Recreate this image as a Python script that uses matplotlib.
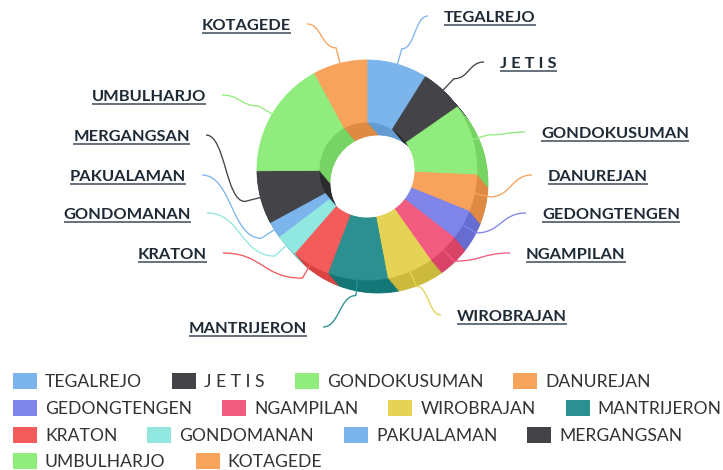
import matplotlib
matplotlib.use('Agg')
import matplotlib.pyplot as plt
import matplotlib.colors as mcolors
from matplotlib.path import Path
from matplotlib.patches import PathPatch, Rectangle
import numpy as np

plt.rcParams['font.family'] = ['Lato', 'DejaVu Sans']

# ---------------- data ----------------
categories = ['TEGALREJO', 'J E T I S', 'GONDOKUSUMAN', 'DANUREJAN', 'GEDONGTENGEN',
              'NGAMPILAN', 'WIROBRAJAN', 'MANTRIJERON', 'KRATON', 'GONDOMANAN',
              'PAKUALAMAN', 'MERGANGSAN', 'UMBULHARJO', 'KOTAGEDE']
values = [8.9, 6.4, 10.4, 5.4, 4.4, 4.7, 6.8, 8.75, 5.6, 3.3, 2.4, 7.8, 17.2, 7.9]
colors = ['#7cb5ec', '#434348', '#90ed7d', '#f7a35c', '#8085e9', '#f15c80', '#e4d354',
          '#2b908f', '#f45b5b', '#91e8e1', '#7cb5ec', '#434348', '#90ed7d', '#f7a35c']

# ---------------- layout (pixels, y downward) ----------------
W, H = 723, 470
CX, CY = 367, 170
R, RIN = 110, 48
DX, DY = 11, 13
NLAYER = 16

# label anchor: (side, x, y_center); right side -> x is text left, left side -> x is text right
label_pos = {
    'TEGALREJO': ('r', 444, 16), 'J E T I S': ('r', 500, 62), 'GONDOKUSUMAN': ('r', 541, 132),
    'DANUREJAN': ('r', 548, 175), 'GEDONGTENGEN': ('r', 542, 213), 'NGAMPILAN': ('r', 526, 253),
    'WIROBRAJAN': ('r', 457, 315), 'MANTRIJERON': ('l', 307, 327), 'KRATON': ('l', 207, 253),
    'GONDOMANAN': ('l', 191, 213), 'PAKUALAMAN': ('l', 186, 175), 'MERGANGSAN': ('l', 190, 135),
    'UMBULHARJO': ('l', 206, 95), 'KOTAGEDE': ('l', 291, 24),
}
legend_rows = [[0, 1, 2, 3], [4, 5, 6, 7], [8, 9, 10, 11], [12, 13]]
legend_y = [381, 408, 435, 461]

fig = plt.figure(figsize=(W / 100, H / 100), dpi=100)
ax = fig.add_axes([0, 0, 1, 1])


def Y(py):
    return H - py


def darker(c):
    r, g, b = mcolors.to_rgb(c)
    d = 25 / 255
    return (max(r - d, 0), max(g - d, 0), max(b - d, 0))


wall = [darker(c) for c in colors]
for k in range(NLAYER, 0, -1):
    wedges, _ = ax.pie(values, colors=wall, radius=R,
                       center=(CX + DX * k / NLAYER, Y(CY + DY * k / NLAYER)),
                       startangle=90, counterclock=False,
                       wedgeprops=dict(width=R - RIN, linewidth=0.6))
    for w, c in zip(wedges, wall):
        w.set_edgecolor(c)

wedges, _ = ax.pie(values, colors=colors, radius=R, center=(CX, Y(CY)),
                   startangle=90, counterclock=False,
                   wedgeprops=dict(width=R - RIN, linewidth=0.6))
for w, c in zip(wedges, colors):
    w.set_edgecolor(c)

ax.set_xlim(0, W)
ax.set_ylim(0, H)
ax.set_aspect('equal')
ax.axis('off')

fig.canvas.draw()
renderer = fig.canvas.get_renderer()

# ---------------- data labels + connectors ----------------
vals = np.array(values, dtype=float)
cum = np.cumsum(vals) / vals.sum() * 360
starts = np.concatenate([[0], cum[:-1]])
mids = (starts + cum) / 2

LBL_FS = 11.8
cap_lbl = 0.72 * LBL_FS * 100 / 72
for i, name in enumerate(categories):
    side, lx, ly = label_pos[name]
    a = np.deg2rad(mids[i])
    ux, uy = np.sin(a), -np.cos(a)
    P = (CX + R * ux, CY + R * uy)
    B = (P[0] + 16 * ux, P[1] + 16 * uy)
    ha = 'left' if side == 'r' else 'right'
    t = ax.text(lx, Y(ly + cap_lbl / 2), name, ha=ha, va='baseline', fontsize=LBL_FS,
                fontweight='bold', color='#1e2a36', zorder=5)
    bb = t.get_window_extent(renderer)
    x0, x1 = bb.x0, bb.x1
    uly = ly + cap_lbl / 2 + 3.5
    ax.plot([x0, x1], [Y(uly), Y(uly)], color='#4d5966', lw=1.2, solid_capstyle='butt', zorder=5)
    if side == 'r':
        A = (x0 - 16, ly)
        s = -1
    else:
        A = (x1 + 16, ly)
        s = 1
    dxab = abs(B[0] - A[0])
    C1 = (A[0] + s * 0.5 * dxab, A[1])
    C2 = (B[0] - s * 0.5 * dxab, B[1])
    verts = [(A[0], Y(A[1])), (C1[0], Y(C1[1])), (C2[0], Y(C2[1])), (B[0], Y(B[1])),
             (P[0], Y(P[1]))]
    codes = [Path.MOVETO, Path.CURVE4, Path.CURVE4, Path.CURVE4, Path.LINETO]
    ax.add_patch(PathPatch(Path(verts, codes), fill=False, edgecolor=colors[i], lw=0.95,
                           zorder=4))

# ---------------- legend ----------------
LEG_FS = 12.6
cap_leg = 0.72 * LEG_FS * 100 / 72
for row, yc in zip(legend_rows, legend_y):
    x = 13
    for i in row:
        ax.add_patch(Rectangle((x, Y(yc + 8)), 24, 16, facecolor=colors[i], edgecolor='none'))
        t = ax.text(x + 32, Y(yc + cap_leg / 2), categories[i], ha='left', va='baseline',
                    fontsize=LEG_FS, color='#333333')
        bb = t.get_window_extent(renderer)
        x = bb.x1 + 30

fig.savefig('out.png', dpi=100)
